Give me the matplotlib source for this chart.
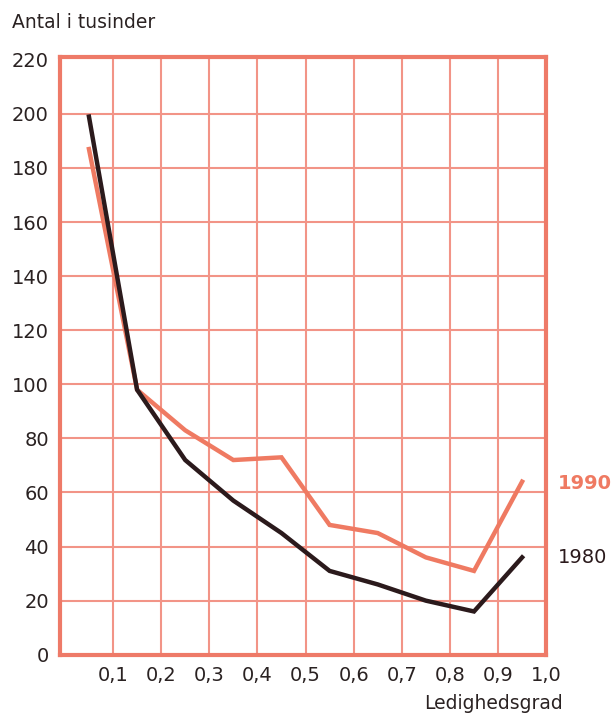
import numpy as np
import matplotlib.pyplot as plt

# ledighedsgrad (midpoints of classes) and counts in thousands
x = [0.05, 0.15, 0.25, 0.35, 0.45, 0.55, 0.65, 0.75, 0.85, 0.95]
antal_1980 = [199, 98, 72, 57, 45, 31, 26, 20, 16, 36]
antal_1990 = [187, 98, 83, 72, 73, 48, 45, 36, 31, 64]

x_ticks = [0.1, 0.2, 0.3, 0.4, 0.5, 0.6, 0.7, 0.8, 0.9, 1.0]
y_ticks = [0, 20, 40, 60, 80, 100, 120, 140, 160, 180, 200, 220]

grid_col = '#f29487'
frame_col = '#ee7a68'
c1990 = '#ef7a62'
c1980 = '#2b1a1c'
txt_col = '#2a2222'

plt.rcParams['font.family'] = ['DejaVu Sans']

fig = plt.figure(figsize=(6.13, 7.14), dpi=100)
ax = fig.add_axes([0.098, 0.083, 0.793, 0.837])

ax.set_xlim(-0.01, 1.0)
ax.set_ylim(0, 221)

for xv in x_ticks[:-1]:
    ax.axvline(xv, color=grid_col, lw=1.5, zorder=1)
for yv in y_ticks[1:-1]:
    ax.axhline(yv, color=grid_col, lw=1.5, zorder=1)

ax.plot(x, antal_1990, color=c1990, lw=3.2, solid_joinstyle='miter', zorder=3)
ax.plot(x, antal_1980, color=c1980, lw=3.2, solid_joinstyle='miter', zorder=4)

for s in ax.spines.values():
    s.set_color(frame_col)
    s.set_linewidth(3)

ax.set_xticks(x_ticks)
ax.set_xticklabels([f"{v:.1f}".replace('.', ',') for v in x_ticks])
ax.set_yticks(y_ticks)
ax.set_yticklabels([str(v) for v in y_ticks])
ax.tick_params(length=0, labelsize=14, labelcolor=txt_col, pad=8)

ax.text(1.025, 63.5, '1990', color=c1990, fontsize=14, fontweight='bold',
        va='center', ha='left', clip_on=False)
ax.text(1.025, 36, '1980', color=c1980, fontsize=14,
        va='center', ha='left', clip_on=False)

fig.text(0.02, 0.968, 'Antal i tusinder', fontsize=13.5, color=txt_col,
         va='center', ha='left')
fig.text(0.918, 0.015, 'Ledighedsgrad', fontsize=13.5, color=txt_col,
         va='center', ha='right')

fig.savefig('out.png', dpi=100)
